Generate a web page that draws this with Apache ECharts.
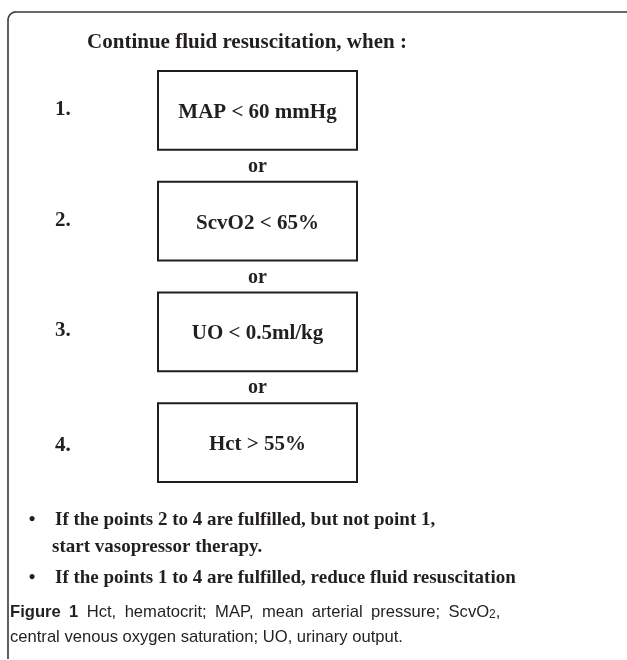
<!DOCTYPE html>
<html>
<head>
<meta charset="utf-8">
<script src="https://cdn.jsdelivr.net/npm/echarts@6/dist/echarts.min.js"></script>
<style>
html,body{margin:0;padding:0;background:#fff;}
#chart{width:627px;height:660px;}
</style>
</head>
<body>
<div id="chart"></div>
<script>
// ---- content ----
const titleText = 'Continue fluid resuscitation, when :';
const criteria = ['MAP < 60 mmHg', 'ScvO2 < 65%', 'UO < 0.5ml/kg', 'Hct > 55%'];
const stepLabels = ['1.', '2.', '3.', '4.'];
const connectorText = 'or';
const noteLines = [
  ['\u2022', 'If the points 2 to 4 are fulfilled, but not point 1,'],
  ['', 'start vasopressor therapy.'],
  ['\u2022', 'If the points 1 to 4 are fulfilled, reduce fluid resuscitation']
];
const captionLead = ['Figure', '1'];
const captionLines = [
  'Hct, hematocrit; MAP, mean arterial pressure; ScvO{sub|2},',
  'central venous oxygen saturation; UO, urinary output.'
];

const SERIF = '"Liberation Serif", "Times New Roman", serif';
const SANS = '"Liberation Sans", Arial, sans-serif';
const INK = '#231f20';
const CAP_FS = 16.6;

const chart = echarts.init(document.getElementById('chart'), null, {renderer: 'canvas'});

const BOX_CX = 257.5, BOX_W = 199, STEP_X = 55;

// rounded corner of the outer frame
const framePts = [[8, 659], [8, 20]];
for (let k = 1; k < 8; k++) {
  const a = Math.PI - (k / 8) * (Math.PI / 2);
  framePts.push([16 + 8 * Math.cos(a), 20 - 8 * Math.sin(a)]);
}
framePts.push([16, 12], [627, 12]);

// justified first caption line (wider word gaps), last line set normally
const justifiedLine1 = captionLead.map(w => '{b|' + w + '}')
  .concat(captionLines[0].split(' ')).join('{sp| }');

const option = {
  backgroundColor: '#fff',
  animation: false,
  grid: {left: 0, right: 0, top: 55, bottom: 162},
  xAxis: {type: 'value', min: 0, max: 627, show: false},
  yAxis: {type: 'category', data: criteria, inverse: true, show: false, boundaryGap: true},
  series: [{
    type: 'custom',
    data: criteria.map((c, i) => [i]),
    renderItem: function (params, api) {
      const idx = api.value(0);
      const c = api.coord([BOX_CX, idx]);
      const band = api.size([0, 1])[1];
      const w = api.size([BOX_W, 0])[0];
      const h = band * 0.713;
      const stepX = api.coord([STEP_X, idx])[0];
      const children = [
        {type: 'rect', shape: {x: c[0] - w / 2, y: c[1] - h / 2, width: w, height: h},
          style: {fill: '#fff', stroke: '#1e1e1e', lineWidth: 2}},
        {type: 'text', x: c[0], y: c[1] + 2,
          style: {text: criteria[idx], font: 'bold 21px ' + SERIF, fill: INK, align: 'center', verticalAlign: 'middle'}},
        {type: 'text', x: stepX, y: c[1] - 1 + (idx === criteria.length - 1 ? 4 : 0),
          style: {text: stepLabels[idx], font: 'bold 21px ' + SERIF, fill: INK, align: 'left', verticalAlign: 'middle'}}
      ];
      if (idx < criteria.length - 1) {
        children.push({type: 'text', x: c[0], y: c[1] + band / 2 + 1,
          style: {text: connectorText, font: 'bold 20px ' + SERIF, fill: INK, align: 'center', verticalAlign: 'middle'}});
      }
      return {type: 'group', children: children};
    }
  }],
  graphic: [
    {type: 'polyline', shape: {points: framePts},
      style: {fill: null, stroke: '#3a3a3a', lineWidth: 1.6}},
    {type: 'text', x: 247, y: 43,
      style: {text: titleText, font: 'bold 21px ' + SERIF, fill: INK, align: 'center', verticalAlign: 'middle'}},
    {type: 'text', x: 32, y: 520, style: {text: noteLines[0][0], font: 'bold 19px ' + SERIF, fill: INK, align: 'center', verticalAlign: 'middle'}},
    {type: 'text', x: 55, y: 520, style: {text: noteLines[0][1], font: 'bold 19px ' + SERIF, fill: INK, align: 'left', verticalAlign: 'middle'}},
    {type: 'text', x: 52, y: 547, style: {text: noteLines[1][1], font: 'bold 19px ' + SERIF, fill: INK, align: 'left', verticalAlign: 'middle'}},
    {type: 'text', x: 32, y: 578, style: {text: noteLines[2][0], font: 'bold 19px ' + SERIF, fill: INK, align: 'center', verticalAlign: 'middle'}},
    {type: 'text', x: 55, y: 578, style: {text: noteLines[2][1], font: 'bold 19px ' + SERIF, fill: INK, align: 'left', verticalAlign: 'middle'}},
    {type: 'text', x: 10, y: 612, style: {
      text: justifiedLine1, font: CAP_FS + 'px ' + SANS, fill: INK, align: 'left', verticalAlign: 'middle',
      rich: {
        b: {fontFamily: SANS, fontSize: CAP_FS, fontWeight: 'bold', fill: INK},
        sp: {fontFamily: SANS, fontSize: CAP_FS, width: 8.4},
        sub: {fontFamily: SANS, fontSize: 12, fill: INK, verticalAlign: 'bottom', padding: [6, 0, 0, 0]}
      }}},
    {type: 'text', x: 10, y: 637, style: {text: captionLines[1], font: CAP_FS + 'px ' + SANS, fill: INK, align: 'left', verticalAlign: 'middle'}}
  ]
};
chart.setOption(option);
</script>
</body>
</html>
